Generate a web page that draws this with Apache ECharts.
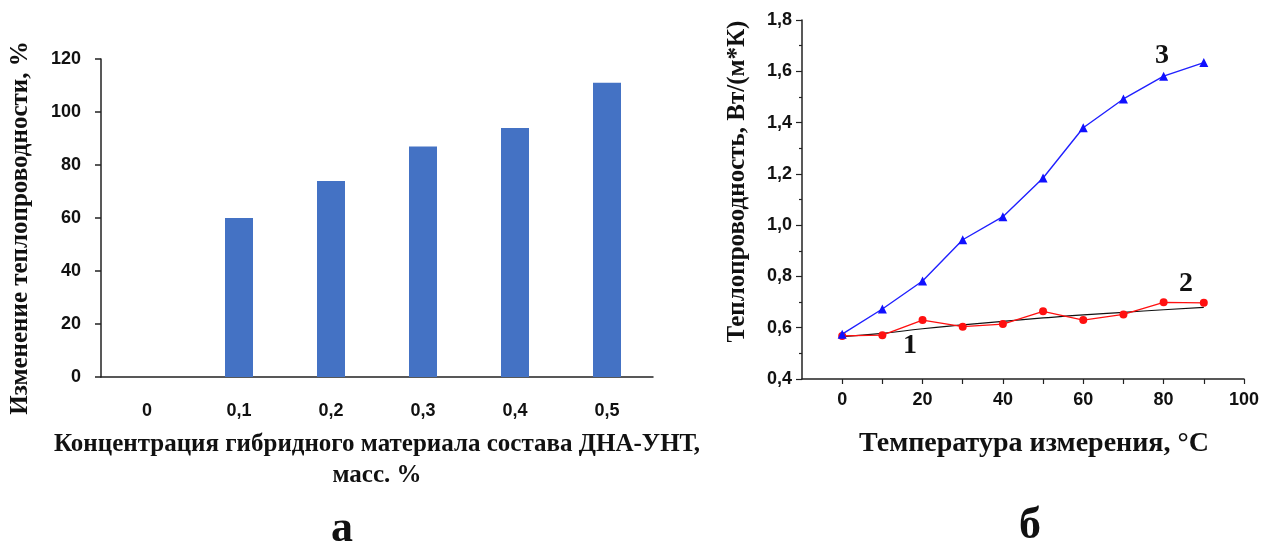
<!DOCTYPE html>
<html>
<head>
<meta charset="utf-8">
<script src="https://cdn.jsdelivr.net/npm/echarts@6/dist/echarts.min.js"></script>
<style>
html,body{margin:0;padding:0;background:#fff;}
#chart{width:1262px;height:544px;}
</style>
</head>
<body>
<div id="chart"></div>
<script>
// ---- Left chart (а) data ----
const concCategories = ['0', '0,1', '0,2', '0,3', '0,4', '0,5'];
const conductivityChange = [0, 60, 74, 87, 94, 111];
const leftYTicks = [0, 20, 40, 60, 80, 100, 120];

// ---- Right chart (б) data ----
const temperatures = [0, 10, 20, 30, 40, 50, 60, 70, 80, 90];
const curve1 = [0.565, 0.578, 0.596, 0.611, 0.625, 0.638, 0.650, 0.660, 0.670, 0.679];
const curve2 = [0.568, 0.571, 0.630, 0.604, 0.614, 0.664, 0.630, 0.652, 0.699, 0.697];
const curve3 = [0.575, 0.673, 0.782, 0.943, 1.033, 1.184, 1.380, 1.492, 1.581, 1.634];
const rightXLabels = [0, 20, 40, 60, 80, 100];
const rightXTicks = [0, 10, 20, 30, 40, 50, 60, 70, 80, 90, 100];

const pairs = ys => temperatures.map((t, i) => [t, ys[i]]);

const SERIF = '"Liberation Serif","Times New Roman",serif';
const SANS = '"Liberation Sans",Arial,sans-serif';

const chart = echarts.init(document.getElementById('chart'));
chart.setOption({
  animation: false,
  backgroundColor: '#ffffff',
  grid: [
    {left: 101, right: 609, top: 59, bottom: 167, containLabel: false},
    {left: 802, right: 17, top: 20, bottom: 165, containLabel: false}
  ],
  xAxis: [
    {
      gridIndex: 0, type: 'category', data: concCategories,
      axisLine: {lineStyle: {color: '#222', width: 1.5}},
      axisTick: {alignWithLabel: true, length: 5, lineStyle: {color: '#222', width: 1.5}},
      axisLabel: {margin: 25, fontFamily: SANS, fontWeight: 'bold', fontSize: 18, color: '#111'},
      splitLine: {show: false},
      name: 'Концентрация гибридного материала состава ДНА-УНТ,\nмасс. %',
      nameLocation: 'middle', nameGap: 52,
      nameTextStyle: {fontFamily: SERIF, fontWeight: 'bold', fontSize: 25, color: '#111', lineHeight: 31, verticalAlign: 'top'}
    },
    {
      gridIndex: 1, type: 'value', min: -10, max: 100,
      axisLine: {onZero: false, lineStyle: {color: '#222', width: 1.5}},
      axisTick: {customValues: rightXTicks, length: 5, lineStyle: {color: '#222', width: 1.2}},
      axisLabel: {customValues: rightXLabels, margin: 12, fontFamily: SANS, fontWeight: 'bold', fontSize: 18, color: '#111'},
      splitLine: {show: false},
      name: 'Температура измерения, °С',
      nameLocation: 'middle', nameGap: 51,
      nameTextStyle: {fontFamily: SERIF, fontWeight: 'bold', fontSize: 28, color: '#111', verticalAlign: 'top', padding: [0, 0, 0, 22]}
    }
  ],
  yAxis: [
    {
      gridIndex: 0, type: 'value', min: 0, max: 120, interval: 20,
      axisLine: {show: true, lineStyle: {color: '#222', width: 1.5}},
      axisTick: {show: true, length: 6, lineStyle: {color: '#222', width: 1.5}},
      axisLabel: {margin: 20, fontFamily: SANS, fontWeight: 'bold', fontSize: 18, color: '#111'},
      splitLine: {show: false},
      name: 'Изменение теплопроводности, %',
      nameLocation: 'middle', nameGap: 68,
      nameTextStyle: {fontFamily: SERIF, fontWeight: 'bold', fontSize: 25, color: '#111', padding: [0, 20, 0, 0]}
    },
    {
      gridIndex: 1, type: 'value', min: 0.4, max: 1.8, interval: 0.2,
      axisLine: {show: true, onZero: false, lineStyle: {color: '#222', width: 1.5}},
      axisTick: {show: true, length: 6, lineStyle: {color: '#222', width: 1.2}},
      minorTick: {show: true, splitNumber: 2, length: 3, lineStyle: {color: '#222', width: 1.2}},
      axisLabel: {margin: 10, fontFamily: SANS, fontWeight: 'bold', fontSize: 18, color: '#111',
        formatter: v => v.toFixed(1).replace('.', ',')},
      splitLine: {show: false},
      minorSplitLine: {show: false},
      name: 'Теплопроводность, Вт/(м*К)',
      nameLocation: 'middle', nameGap: 52,
      nameTextStyle: {fontFamily: SERIF, fontWeight: 'bold', fontSize: 25, color: '#111', padding: [0, 0, 0, 36]}
    }
  ],
  series: [
    {
      type: 'bar', xAxisIndex: 0, yAxisIndex: 0, data: conductivityChange,
      barWidth: 28, itemStyle: {color: '#4472C4'}
    },
    {
      name: '1', type: 'line', xAxisIndex: 1, yAxisIndex: 1, data: pairs(curve1),
      smooth: true, showSymbol: false, symbol: 'none',
      lineStyle: {color: '#111', width: 1.2}, z: 2
    },
    {
      name: '2', type: 'line', xAxisIndex: 1, yAxisIndex: 1, data: pairs(curve2),
      symbol: 'circle', symbolSize: 8,
      lineStyle: {color: '#ff1010', width: 1.3}, itemStyle: {color: '#ff1010'}, z: 3
    },
    {
      name: '3', type: 'line', xAxisIndex: 1, yAxisIndex: 1, data: pairs(curve3),
      symbol: 'triangle', symbolSize: 9,
      lineStyle: {color: '#2020ff', width: 1.4}, itemStyle: {color: '#1010ff'}, z: 4
    }
  ],
  graphic: [
    {type: 'text', left: 903, top: 332, style: {text: '1', font: 'bold 28px ' + SERIF, fill: '#111'}},
    {type: 'text', left: 1179, top: 270, style: {text: '2', font: 'bold 28px ' + SERIF, fill: '#111'}},
    {type: 'text', left: 1155, top: 42, style: {text: '3', font: 'bold 28px ' + SERIF, fill: '#111'}},
    {type: 'text', left: 331, top: 508, style: {text: 'а', font: 'bold 44px ' + SERIF, fill: '#111'}},
    {type: 'text', left: 1019, top: 505, style: {text: 'б', font: 'bold 44px ' + SERIF, fill: '#111'}}
  ]
});
</script>
</body>
</html>
